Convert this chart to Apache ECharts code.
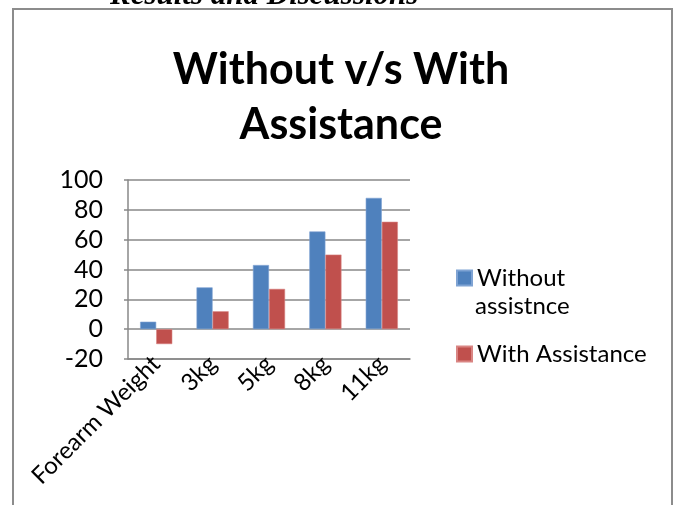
<!DOCTYPE html>
<html>
<head>
<meta charset="utf-8">
<script src="https://cdn.jsdelivr.net/npm/echarts@6/dist/echarts.min.js"></script>
<style>
    html, body { margin: 0; padding: 0; background: #fff; }
    #chart { width: 682px; height: 505px; }
</style>
</head>
<body>
<div id="chart"></div>
<script>
    // categories and values
    let categories = ['Forearm Weight', '3kg', '5kg', '8kg', '11kg'];
    let seriesNames = ['Without assistnce', 'With Assistance'];
    let withoutVals = [5, 28, 43, 65.5, 88];
    let withVals = [-10, 12, 27, 50, 72];
    let yTicks = { min: -20, max: 100, step: 20 };

    let font = 'Lato, "Open Sans", sans-serif';
    let chart = echarts.init(document.getElementById('chart'));

    let option = {
        animation: false,
        color: ['#4F81BD', '#C0504D'],
        textStyle: { fontFamily: font },
        title: {
            text: 'Without v/s With\nAssistance',
            left: 'center',
            top: 38,
            textStyle: {
                fontFamily: font,
                fontSize: 43,
                fontWeight: 'bold',
                color: '#000',
                lineHeight: 55
            }
        },
        graphic: [
            {
                type: 'rect',
                shape: { x: 13, y: 9, width: 659, height: 510 },
                style: { fill: 'none', stroke: '#8c8c8c', lineWidth: 2 },
                silent: true
            },
            {
                // page heading cut off above the chart box
                type: 'text',
                x: 110,
                y: 11,
                style: {
                    text: 'Results and Discussions',
                    font: 'italic bold 31px "Liberation Serif", serif',
                    verticalAlign: 'bottom',
                    align: 'left',
                    fill: '#000'
                }
            },
            {
                // second line of the first legend entry
                type: 'text',
                x: 475,
                y: 294,
                style: {
                    text: 'assistnce',
                    font: '24px Lato, "Open Sans", sans-serif',
                    fill: '#000'
                }
            }
        ],
        legend: {
            orient: 'vertical',
            left: 451,
            top: 261,
            itemGap: 52,
            itemWidth: 15,
            itemHeight: 15,
            icon: 'rect',
            data: seriesNames,
            formatter: function (name) {
                return name === seriesNames[0] ? 'Without' : name;
            },
            textStyle: { fontFamily: font, fontSize: 24, color: '#000' }
        },
        grid: { left: 128, right: 272, top: 180, bottom: 146 },
        xAxis: {
            type: 'category',
            data: categories,
            axisLine: { onZero: false, lineStyle: { color: '#888', width: 1.5 } },
            axisTick: { show: false },
            axisLabel: {
                rotate: 45,
                interval: 0,
                margin: 1,
                fontFamily: font,
                fontSize: 24,
                color: '#000'
            }
        },
        yAxis: {
            type: 'value',
            min: yTicks.min,
            max: yTicks.max,
            interval: yTicks.step,
            axisLine: { show: true, lineStyle: { color: '#888', width: 1.5 } },
            axisTick: { show: true, length: 4, lineStyle: { color: '#888', width: 1.5 } },
            splitLine: { lineStyle: { color: '#888', width: 1.5 } },
            axisLabel: { fontFamily: font, fontSize: 25, color: '#000', margin: 25 }
        },
        series: [
            {
                name: seriesNames[0],
                type: 'bar',
                data: withoutVals,
                barGap: '0%',
                barCategoryGap: '43%',
                itemStyle: { borderColor: '#7fa3d3', borderWidth: 0.6 }
            },
            {
                name: seriesNames[1],
                type: 'bar',
                data: withVals,
                itemStyle: { borderColor: '#d98583', borderWidth: 0.6 }
            }
        ]
    };
    chart.setOption(option);
</script>
</body>
</html>
